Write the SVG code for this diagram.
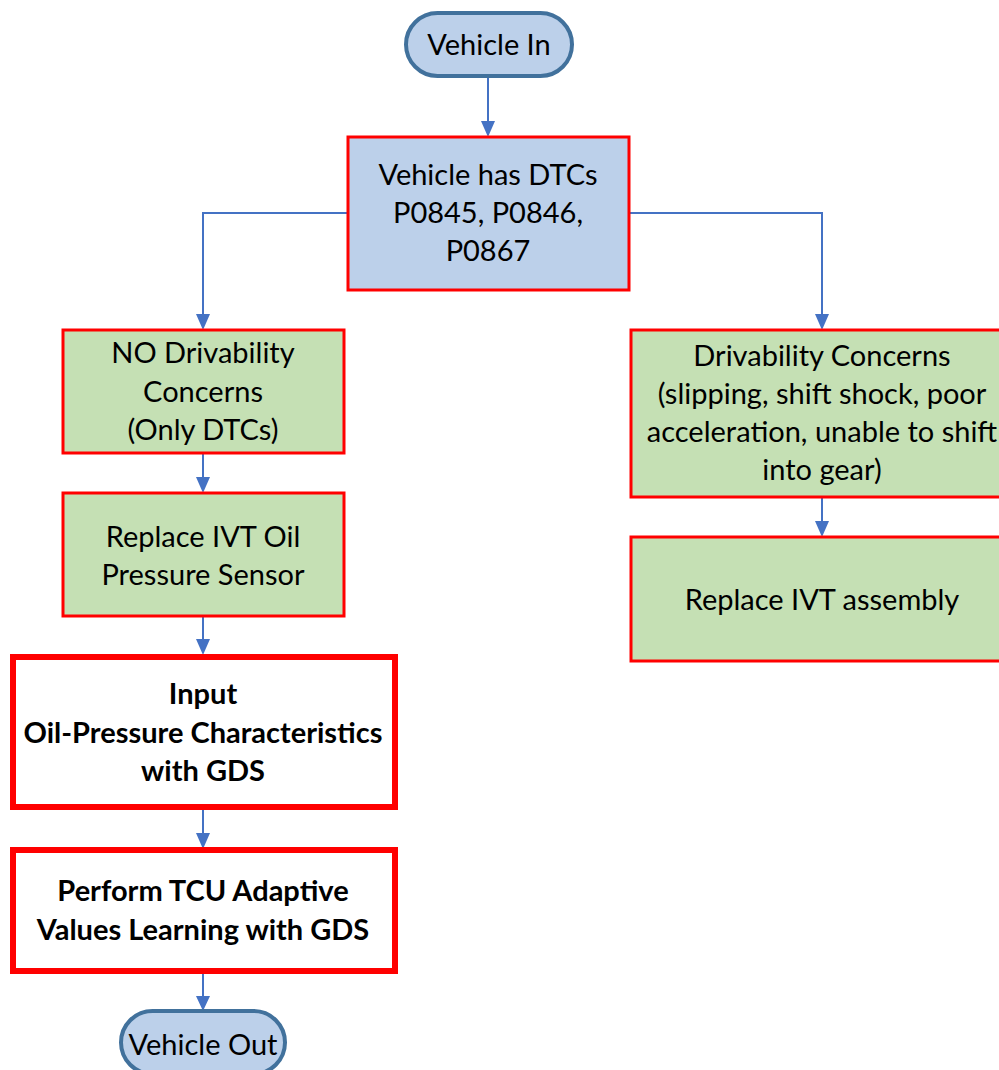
<svg xmlns="http://www.w3.org/2000/svg" width="999" height="1070" viewBox="0 0 999 1070">
<style>
.t{font-family:Lato,"Noto Sans",sans-serif;font-size:29px;fill:#000;text-anchor:middle}
.b{font-weight:bold}
.term{fill:#BCD0EA;stroke:#41719C;stroke-width:4}
.blue{fill:#BCD0EA;stroke:#FF0000;stroke-width:3}
.green{fill:#C5E0B4;stroke:#FF0000;stroke-width:3}
.white{fill:#FFFFFF;stroke:#FF0000;stroke-width:6}
.c{fill:none;stroke:#4472C4;stroke-width:2}
.h{fill:#4472C4}
</style>
<rect width="999" height="1070" fill="#fff"/>
<g id="connectors">
<path class="c" d="M488,77 V121"/><path class="h" d="M481,121 L495,121 L488,137 Z"/>
<path class="c" d="M348,213 H203 V314"/><path class="h" d="M196,314 L210,314 L203,330 Z"/>
<path class="c" d="M629,213 H822 V314"/><path class="h" d="M815,314 L829,314 L822,330 Z"/>
<path class="c" d="M203,453 V477"/><path class="h" d="M196,477 L210,477 L203,493 Z"/>
<path class="c" d="M203,616 V639"/><path class="h" d="M196,639 L210,639 L203,655 Z"/>
<path class="c" d="M203,808 V833"/><path class="h" d="M196,833 L210,833 L203,849 Z"/>
<path class="c" d="M203,972 V996"/><path class="h" d="M196,996 L210,996 L203,1011 Z"/>
<path class="c" d="M822,498 V521"/><path class="h" d="M815,521 L829,521 L822,537 Z"/>
</g>
<g id="vehicle-in">
<rect class="term" x="406" y="13" width="166" height="63" rx="31.5"/>
<text class="t" x="489" y="55">Vehicle In</text>
</g>
<g id="dtcs">
<rect class="blue" x="348" y="137" width="281" height="153"/>
<text class="t" x="488" y="185">Vehicle has DTCs</text>
<text class="t" x="488" y="223">P0845, P0846,</text>
<text class="t" x="488" y="261">P0867</text>
</g>
<g id="no-drivability">
<rect class="green" x="63" y="330" width="281" height="123"/>
<text class="t" x="203" y="363">NO Drivability</text>
<text class="t" x="203" y="402">Concerns</text>
<text class="t" x="203" y="440">(Only DTCs)</text>
</g>
<g id="replace-sensor">
<rect class="green" x="63" y="493" width="281" height="123"/>
<text class="t" x="203" y="547">Replace IVT Oil</text>
<text class="t" x="203" y="585">Pressure Sensor</text>
</g>
<g id="input">
<rect class="white" x="13" y="657" width="382" height="150"/>
<text class="t b" x="203" y="704">Input</text>
<text class="t b" x="203" y="743">Oil-Pressure Characteristics</text>
<text class="t b" x="203" y="781">with GDS</text>
</g>
<g id="perform">
<rect class="white" x="13" y="850" width="382" height="121"/>
<text class="t b" x="203" y="901">Perform TCU Adaptive</text>
<text class="t b" x="203" y="940">Values Learning with GDS</text>
</g>
<g id="vehicle-out">
<rect class="term" x="121" y="1011" width="164" height="63" rx="31.5"/>
<text class="t" x="203" y="1055">Vehicle Out</text>
</g>
<g id="drivability">
<rect class="green" x="631" y="330" width="382" height="167"/>
<text class="t" x="822" y="366">Drivability Concerns</text>
<text class="t" x="822" y="404">(slipping, shift shock, poor</text>
<text class="t" x="822" y="442">acceleration, unable to shift</text>
<text class="t" x="822" y="480">into gear)</text>
</g>
<g id="replace-assembly">
<rect class="green" x="631" y="537" width="382" height="124"/>
<text class="t" x="822" y="610">Replace IVT assembly</text>
</g>
</svg>
